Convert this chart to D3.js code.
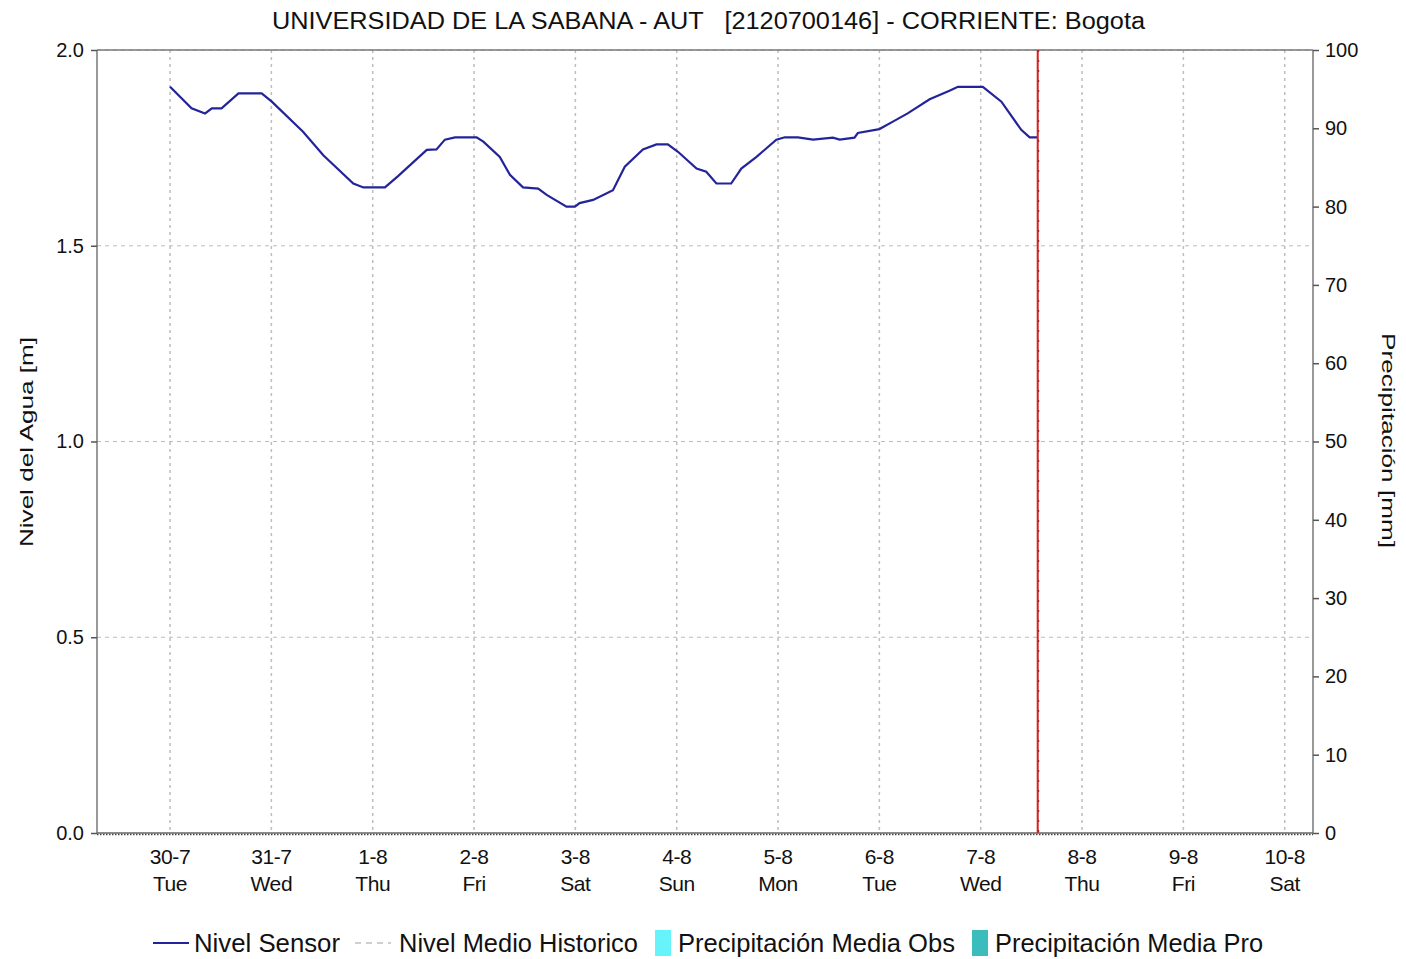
<!DOCTYPE html>
<html><head><meta charset="utf-8">
<script src="https://cdn.jsdelivr.net/npm/d3@7"></script>
<style>
body{margin:0;background:#fff;}
svg text{font-family:"Liberation Sans",Arial,sans-serif;fill:#111;}
</style></head>
<body><svg id="c" width="1406" height="959"></svg>
<script>
const titleText = "UNIVERSIDAD DE LA SABANA - AUT   [2120700146] - CORRIENTE: Bogota";
const leftTicks = [0.0, 0.5, 1.0, 1.5, 2.0];
const rightTicks = [0,10,20,30,40,50,60,70,80,90,100];
const dayDates = ["2024-07-30","2024-07-31","2024-08-01","2024-08-02","2024-08-03","2024-08-04","2024-08-05","2024-08-06","2024-08-07","2024-08-08","2024-08-09","2024-08-10"];
const dayLabels = ["30-7","31-7","1-8","2-8","3-8","4-8","5-8","6-8","7-8","8-8","9-8","10-8"];
const weekdayLabels = ["Tue","Wed","Thu","Fri","Sat","Sun","Mon","Tue","Wed","Thu","Fri","Sat"];
// hours since 2024-07-30 00:00
const sensorHours = [0,5.1,8.3,9.9,12.2,16.2,21.7,24.1,31.5,36.3,43.4,45.8,50.9,54.0,60.8,63.1,65.1,67.5,72.6,74.2,78.1,80.5,83.6,87.2,89.2,93.9,95.9,97.0,100.2,104.9,107.7,112.0,115.2,117.9,120.3,124.7,127.0,129.4,132.9,135.3,138.9,143.6,145.6,148.7,152.3,157.0,158.6,162.1,162.9,168.0,171.2,174.7,179.9,184.6,186.6,192.5,196.9,201.6,203.6,205.5];
const sensorLevel = [1.906,1.851,1.838,1.851,1.851,1.889,1.889,1.868,1.791,1.731,1.659,1.649,1.649,1.678,1.745,1.746,1.771,1.777,1.777,1.766,1.727,1.681,1.649,1.646,1.630,1.600,1.600,1.609,1.617,1.642,1.702,1.746,1.759,1.759,1.740,1.697,1.689,1.659,1.659,1.697,1.727,1.771,1.777,1.777,1.771,1.776,1.771,1.776,1.788,1.798,1.817,1.838,1.874,1.896,1.906,1.906,1.868,1.796,1.777,1.777];
const nowHours = 205.5;
const legendItems = ["Nivel Sensor","Nivel Medio Historico","Precipitación Media Obs","Precipitación Media Pro"];

const base = new Date(2024,6,30,0,0);
const hToDate = h => new Date(base.getTime()+h*3600e3);
const parseDay = s => { const [y,m,d]=s.split("-").map(Number); return new Date(y,m-1,d); };

const svg = d3.select("#c");
const L=97, R=1313, T=50, B=833;
const x = d3.scaleTime().domain([hToDate(-17.3), hToDate(-17.3+288)]).range([L,R]);
const y = d3.scaleLinear().domain([0,2]).range([B,T]);
const y2 = d3.scaleLinear().domain([0,100]).range([B,T]);

// grid
const g = svg.append("g");
g.selectAll("line.hg").data(leftTicks.filter(v=>v>0)).join("line")
 .attr("x1",L).attr("x2",R).attr("y1",d=>y(d)).attr("y2",d=>y(d))
 .attr("stroke","#bdbdbd").attr("stroke-width",1.2).attr("stroke-dasharray","4,4");
g.selectAll("line.vg").data(dayDates).join("line")
 .attr("x1",d=>x(parseDay(d))).attr("x2",d=>x(parseDay(d))).attr("y1",T).attr("y2",B)
 .attr("stroke","#bdbdbd").attr("stroke-width",1.5).attr("stroke-dasharray","3,4");

// frame
svg.append("line").attr("x1",L).attr("x2",R).attr("y1",T).attr("y2",T).attr("stroke","#777").attr("stroke-width",1.5);
svg.append("line").attr("x1",L).attr("x2",L).attr("y1",T).attr("y2",B).attr("stroke","#777").attr("stroke-width",1.5);
svg.append("line").attr("x1",R).attr("x2",R).attr("y1",T).attr("y2",B).attr("stroke","#777").attr("stroke-width",1.5);
svg.append("line").attr("x1",L).attr("x2",R).attr("y1",B).attr("y2",B).attr("stroke","#666").attr("stroke-width",1.5);
svg.append("line").attr("x1",L).attr("x2",R).attr("y1",B+1.5).attr("y2",B+1.5).attr("stroke","#444").attr("stroke-width",1.5).attr("stroke-dasharray","1.5,1.5");

// axes
const ax = svg.append("g").attr("transform",`translate(${L},0)`)
 .call(d3.axisLeft(y).tickValues(leftTicks).tickFormat(d3.format(".1f")).tickSize(6).tickPadding(7));
ax.select(".domain").remove();
ax.selectAll(".tick line").attr("stroke","#555").attr("stroke-width",1.5);
ax.selectAll("text").style("font-size","20px").attr("fill","#111");

const ax2 = svg.append("g").attr("transform",`translate(${R},0)`)
 .call(d3.axisRight(y2).tickValues(rightTicks).tickSize(6).tickPadding(6));
ax2.select(".domain").remove();
ax2.selectAll(".tick line").attr("stroke","#555").attr("stroke-width",1.5);
ax2.selectAll("text").style("font-size","20px").attr("fill","#111");

const xt = svg.append("g");
xt.selectAll("text.d").data(dayDates).join("text")
 .attr("x",d=>x(parseDay(d))).attr("y",864).attr("text-anchor","middle")
 .style("font-size","21px").style("letter-spacing","-0.4px").text((d,i)=>dayLabels[i]);
xt.selectAll("text.w").data(dayDates).join("text")
 .attr("x",d=>x(parseDay(d))).attr("y",891).attr("text-anchor","middle")
 .style("font-size","21px").style("letter-spacing","-0.4px").text((d,i)=>weekdayLabels[i]);

// titles
svg.append("text").attr("x",272).attr("y",29)
 .style("font-size","23px").attr("textLength",873).attr("lengthAdjust","spacingAndGlyphs")
 .attr("xml:space","preserve").text(titleText);
svg.append("text").attr("transform","translate(33,547) rotate(-90)")
 .style("font-size","19px").attr("textLength",210).attr("lengthAdjust","spacingAndGlyphs").text("Nivel del Agua [m]");
svg.append("text").attr("transform","translate(1382,333) rotate(90)")
 .style("font-size","19px").attr("textLength",215).attr("lengthAdjust","spacingAndGlyphs").text("Precipitación [mm]");

// sensor line
const line = d3.line().x((d,i)=>x(hToDate(sensorHours[i]))).y(d=>y(d));
svg.append("path").datum(sensorLevel).attr("d",line).attr("fill","none")
 .attr("stroke","#24249a").attr("stroke-width",2.2);

// now line
const nx = x(hToDate(nowHours));
svg.append("line").attr("x1",nx).attr("x2",nx).attr("y1",T).attr("y2",B).attr("stroke","#d42020").attr("stroke-width",2);
svg.append("line").attr("x1",nx+1).attr("x2",nx+1).attr("y1",T).attr("y2",B).attr("stroke","#a01010").attr("stroke-width",1).attr("stroke-dasharray","2,8");

// legend
const lg = svg.append("g");
const lt = (xx,i,w)=>lg.append("text").attr("x",xx).attr("y",952).style("font-size","25px")
  .attr("textLength",w).attr("lengthAdjust","spacingAndGlyphs").text(legendItems[i]);
lg.append("line").attr("x1",153).attr("x2",189).attr("y1",943).attr("y2",943).attr("stroke","#24249a").attr("stroke-width",2);
lt(194,0,146);
lg.append("line").attr("x1",355).attr("x2",391).attr("y1",943).attr("y2",943).attr("stroke","#cfcfcf").attr("stroke-width",2).attr("stroke-dasharray","6,5");
lt(399,1,239);
lg.append("rect").attr("x",655).attr("y",930).attr("width",16).attr("height",26).attr("fill","#66f4fa");
lt(678,2,277);
lg.append("rect").attr("x",972).attr("y",930).attr("width",16).attr("height",26).attr("fill","#3cbcbc");
lt(995,3,268);
</script></body></html>
